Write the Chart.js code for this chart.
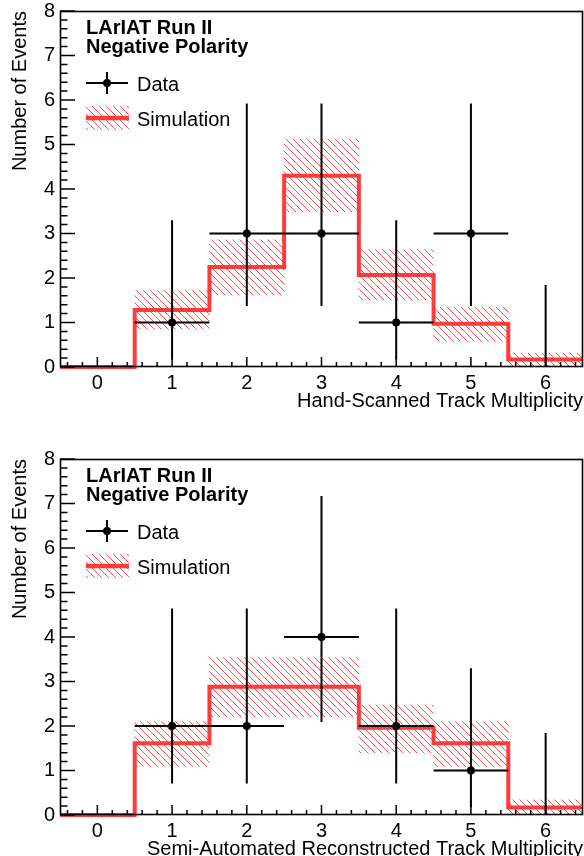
<!DOCTYPE html>
<html lang="en">
<head>
    <meta charset="UTF-8">
    <title>LArIAT Track Multiplicity</title>
    <script src="https://cdn.jsdelivr.net/npm/chart.js"></script>
    <style>
        body {
            margin: 0;
            padding: 0;
            background: #fff;
            width: 584px;
            height: 856px;
            overflow: hidden;
            position: relative;
        }
        .pad {
            position: absolute;
            left: 0;
            width: 584px;
            height: 448px;
        }
        #padTop { top: 0; }
        #padBottom { top: 448px; }
    </style>
</head>
<body>
    <div class="pad" id="padTop"><canvas id="handChart" width="584" height="448"></canvas></div>
    <div class="pad" id="padBottom"><canvas id="autoChart" width="584" height="448"></canvas></div>

    <script>
        // bins and axis ticks
        var multiplicity = [0, 1, 2, 3, 4, 5, 6];
        var yTicks = [0, 1, 2, 3, 4, 5, 6, 7, 8];

        // hand-scanned panel (null = bin not drawn)
        var handData = [null, 1, 3, 3, 1, 3, 0];
        var handDataLow = [null, 0.17, 1.37, 1.37, 0.17, 1.37, 0];
        var handDataHigh = [null, 3.30, 5.92, 5.92, 3.30, 5.92, 1.84];
        var handSim = [0, 1.28, 2.25, 4.30, 2.07, 0.97, 0.17];
        var handSimLow = [0, 0.85, 1.62, 3.49, 1.51, 0.58, 0.03];
        var handSimHigh = [0, 1.72, 2.86, 5.12, 2.64, 1.34, 0.31];

        // semi-automated panel
        var autoData = [null, 2, 2, 4, 2, 1, 0];
        var autoDataLow = [null, 0.71, 0.71, 2.09, 0.71, 0.17, 0];
        var autoDataHigh = [null, 4.64, 4.64, 7.17, 4.64, 3.30, 1.84];
        var autoSim = [0, 1.61, 2.88, 2.88, 1.96, 1.61, 0.17];
        var autoSimLow = [0, 1.09, 2.21, 2.21, 1.39, 1.09, 0.02];
        var autoSimHigh = [0, 2.10, 3.54, 3.54, 2.47, 2.10, 0.34];

        var RED = 'rgb(255, 60, 60)';
        var FONT = "'Liberation Sans', Arial, Helvetica, sans-serif";

        Chart.defaults.font.family = FONT;
        Chart.defaults.color = '#000';

        function makeHatch() {
            var c = document.createElement('canvas');
            c.width = 7;
            c.height = 7;
            var g = c.getContext('2d');
            g.strokeStyle = 'rgba(255, 70, 70, 0.95)';
            g.lineWidth = 1;
            g.beginPath();
            g.moveTo(-1, -1); g.lineTo(8, 8);
            g.moveTo(-1, 6); g.lineTo(1, 8);
            g.moveTo(6, -1); g.lineTo(8, 1);
            g.stroke();
            return g.createPattern(c, 'repeat');
        }

        function buildPanel(canvasId, xTitle, dataVals, dataLow, dataHigh, simVals, simLow, simHigh) {
            var hatch = makeHatch();

            // histogram edges for the stepped line
            var edges = multiplicity.map(function (m) { return m - 0.5; });
            edges.push(multiplicity[multiplicity.length - 1] + 0.5);
            var stepVals = simVals.concat([simVals[simVals.length - 1]]);

            var bandPoints = multiplicity.map(function (m, i) {
                return { x: m, y: [simLow[i], simHigh[i]] };
            });
            var linePoints = edges.map(function (e, i) {
                return { x: e, y: stepVals[i] };
            });
            var dataPoints = [];
            multiplicity.forEach(function (m, i) {
                if (dataVals[i]) dataPoints.push({ x: m, y: dataVals[i] });
            });

            var panelPlugin = {
                id: 'panel' + canvasId,
                afterDatasetsDraw: function (chart) {
                    var ctx = chart.ctx;
                    var xs = chart.scales.x, ys = chart.scales.y;
                    ctx.save();
                    ctx.strokeStyle = '#000';
                    ctx.lineWidth = 2;
                    ctx.beginPath();
                    multiplicity.forEach(function (m, i) {
                        if (dataHigh[i] == null) return;
                        var px = xs.getPixelForValue(m);
                        ctx.moveTo(px, ys.getPixelForValue(dataLow[i]));
                        ctx.lineTo(px, ys.getPixelForValue(dataHigh[i]));
                        if (dataVals[i] > 0) {
                            var py = ys.getPixelForValue(dataVals[i]);
                            ctx.moveTo(xs.getPixelForValue(m - 0.5), py);
                            ctx.lineTo(xs.getPixelForValue(m + 0.5), py);
                        }
                    });
                    ctx.stroke();
                    ctx.restore();
                },
                afterDraw: function (chart) {
                    var ctx = chart.ctx;
                    var a = chart.chartArea;
                    var xs = chart.scales.x, ys = chart.scales.y;
                    ctx.save();

                    // frame
                    ctx.strokeStyle = '#000';
                    ctx.lineWidth = 1.6;
                    ctx.strokeRect(a.left + 0.5, a.top + 0.5, a.right - a.left - 1, a.bottom - a.top - 1);

                    // ticks, drawn inwards like ROOT
                    ctx.lineWidth = 1.5;
                    ctx.beginPath();
                    for (var k = 0; k <= 40; k++) {
                        var v = k * 0.2;
                        var py = ys.getPixelForValue(v);
                        var len = (k % 5 === 0) ? 15 : 7.5;
                        ctx.moveTo(a.left, py);
                        ctx.lineTo(a.left + len, py);
                    }
                    for (var j = -2; j <= 32; j++) {
                        var xv = j * 0.2;
                        var px = xs.getPixelForValue(xv);
                        var xl = (j % 5 === 0) ? 10 : 5;
                        ctx.moveTo(px, a.bottom);
                        ctx.lineTo(px, a.bottom - xl);
                    }
                    ctx.stroke();

                    // header text
                    ctx.fillStyle = '#000';
                    ctx.textAlign = 'left';
                    ctx.textBaseline = 'alphabetic';
                    ctx.font = 'bold 20px ' + FONT;
                    ctx.fillText('LArIAT Run II', 86, 34);
                    ctx.fillText('Negative Polarity', 86, 53);

                    // legend: data
                    ctx.lineWidth = 2;
                    ctx.beginPath();
                    ctx.moveTo(86, 83); ctx.lineTo(128, 83);
                    ctx.moveTo(107, 72); ctx.lineTo(107, 94);
                    ctx.stroke();
                    ctx.beginPath();
                    ctx.arc(107, 83, 4, 0, Math.PI * 2);
                    ctx.fill();
                    ctx.font = '20px ' + FONT;
                    ctx.fillText('Data', 137, 91);

                    // legend: simulation
                    ctx.fillStyle = hatch;
                    ctx.fillRect(86, 106, 43, 24);
                    ctx.strokeStyle = RED;
                    ctx.lineWidth = 4.5;
                    ctx.beginPath();
                    ctx.moveTo(86, 118); ctx.lineTo(129, 118);
                    ctx.stroke();
                    ctx.fillStyle = '#000';
                    ctx.fillText('Simulation', 137, 126);

                    ctx.restore();
                }
            };

            return new Chart(document.getElementById(canvasId).getContext('2d'), {
                type: 'bar',
                data: {
                    datasets: [{
                        type: 'scatter',
                        label: 'Data',
                        data: dataPoints,
                        backgroundColor: '#000',
                        borderColor: '#000',
                        pointRadius: 4,
                        pointBorderWidth: 0,
                        order: 1
                    }, {
                        type: 'line',
                        label: 'Simulation',
                        data: linePoints,
                        stepped: true,
                        borderColor: RED,
                        borderWidth: 4,
                        pointRadius: 0,
                        fill: false,
                        clip: false,
                        order: 2
                    }, {
                        type: 'bar',
                        label: 'Simulation band',
                        data: bandPoints,
                        backgroundColor: hatch,
                        borderWidth: 0,
                        barPercentage: 1,
                        categoryPercentage: 1,
                        order: 3
                    }]
                },
                options: {
                    responsive: false,
                    animation: false,
                    layout: { autoPadding: false, padding: { top: 11, right: 1, left: 0, bottom: 0 } },
                    plugins: {
                        legend: { display: false },
                        tooltip: { enabled: false }
                    },
                    scales: {
                        x: {
                            type: 'linear',
                            min: -0.5,
                            max: 6.5,
                            offset: false,
                            grid: { display: false, drawTicks: false },
                            border: { display: false },
                            ticks: { color: '#000', font: { size: 20 }, padding: 4 },
                            afterBuildTicks: function (s) {
                                s.ticks = multiplicity.map(function (v) { return { value: v }; });
                            },
                            afterFit: function (s) {
                                s.height = 81;
                                s.paddingLeft = 0;
                                s.paddingRight = 0;
                            },
                            title: {
                                display: true,
                                text: xTitle,
                                align: 'end',
                                color: '#000',
                                font: { size: 20 },
                                padding: { top: 0, bottom: 35 }
                            }
                        },
                        y: {
                            type: 'linear',
                            min: 0,
                            max: 8,
                            grid: { display: false, drawTicks: false },
                            border: { display: false },
                            ticks: { color: '#000', font: { size: 20 }, padding: 5 },
                            afterBuildTicks: function (s) {
                                s.ticks = yTicks.map(function (v) { return { value: v }; });
                            },
                            afterFit: function (s) {
                                s.width = 60;
                                s.paddingTop = 0;
                                s.paddingBottom = 0;
                            },
                            title: {
                                display: true,
                                text: 'Number of Events',
                                align: 'end',
                                color: '#000',
                                font: { size: 20 },
                                padding: { top: 8, bottom: 0 }
                            }
                        }
                    }
                },
                plugins: [panelPlugin]
            });
        }

        var handChart = buildPanel('handChart', 'Hand-Scanned Track Multiplicity',
            handData, handDataLow, handDataHigh, handSim, handSimLow, handSimHigh);
        var autoChart = buildPanel('autoChart', 'Semi-Automated Reconstructed Track Multiplicity',
            autoData, autoDataLow, autoDataHigh, autoSim, autoSimLow, autoSimHigh);
    </script>
</body>
</html>
